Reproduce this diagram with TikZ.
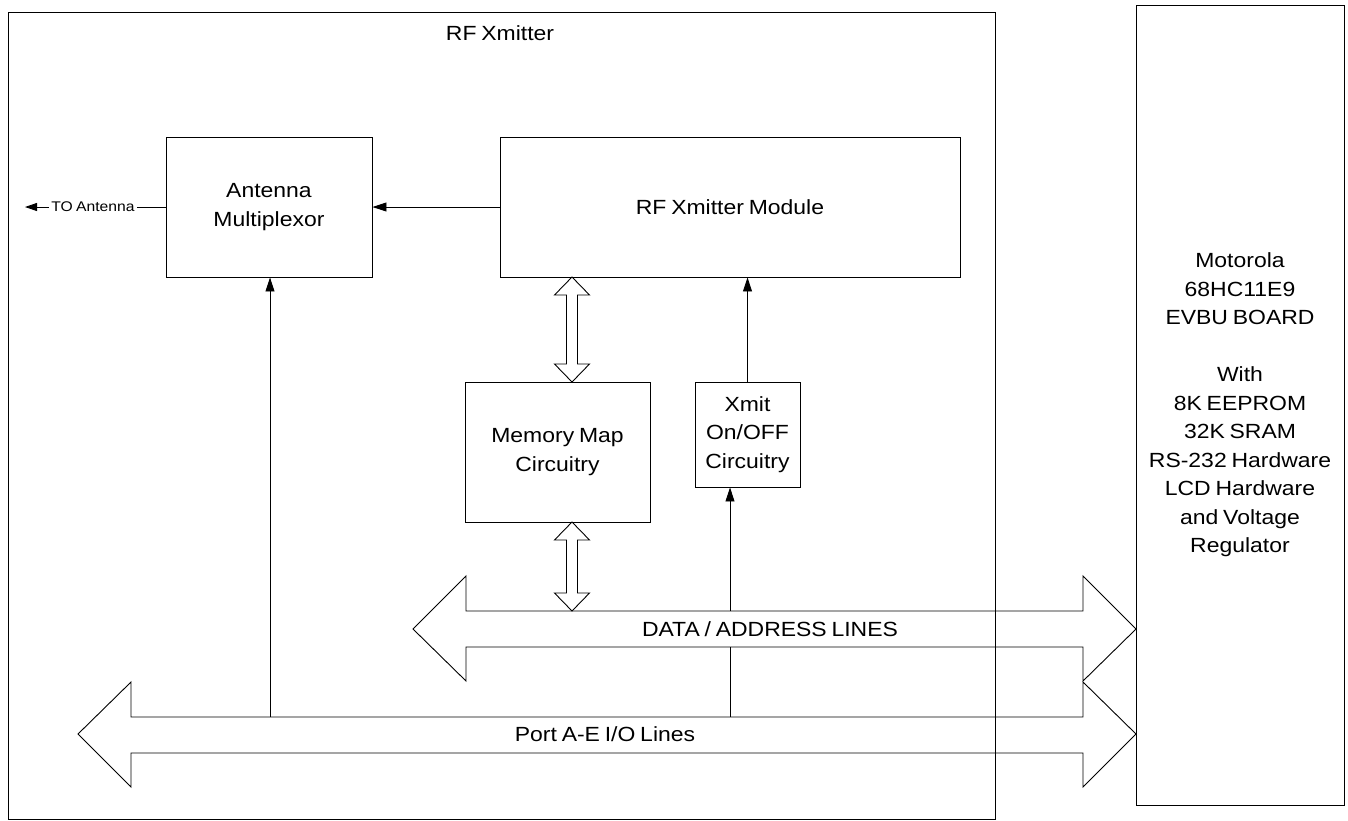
\documentclass[tikz,border=0pt]{standalone}
\usepackage{fontspec}
\setmainfont{Liberation Sans}[FakeStretch=1.12,WordSpace=0.75]
\usetikzlibrary{arrows.meta}
\newcommand\mainsz{\fontsize{20.5}{28.5}\selectfont}
\newcommand\smallsz{\fontsize{14}{16}\selectfont}
\begin{document}
\begin{tikzpicture}[x=1pt,y=-1pt,line width=0.9pt,
  blk/.style={draw, inner sep=0pt, align=center, font=\mainsz},
  lbl/.style={inner sep=0pt, align=center, font=\mainsz},
  arr/.style={-{Triangle[length=14pt,width=9pt]}},
  sarr/.style={-{Triangle[length=12pt,width=8pt]}}]
\useasboundingbox (0,0) rectangle (1348,820);

% enclosing boards
\node[draw, minimum width=987pt, minimum height=807pt, inner sep=0pt] (rfx) at (501.5,415.5) {};
\node[lbl] (rfxlbl) at (500,33) {RF Xmitter};
\node[draw, minimum width=208pt, minimum height=800pt, inner sep=0pt] (evbu) at (1240,405) {};
\node[lbl] (evbulbl) at (1240,405) {Motorola\\68HC11E9\\EVBU BOARD\\[28.5pt]With\\8K EEPROM\\32K SRAM\\RS-232 Hardware\\LCD Hardware\\and Voltage\\Regulator};

% functional blocks
\node[blk, minimum width=206pt, minimum height=140pt] (mux) at (269,207) {Antenna\\Multiplexor};
\node[blk, minimum width=460pt, minimum height=140pt] (rfm) at (730,207) {RF Xmitter Module};
\node[blk, minimum width=185pt, minimum height=140pt] (mem) at (557.5,452) {Memory Map\\Circuitry};
\node[blk, minimum width=105pt, minimum height=105pt] (xon) at (747.5,434.5) {Xmit\\On/OFF\\Circuitry};

% data / address bus
\draw (413,629) -- (466,576) -- (466,611) -- (1083,611) -- (1083,576) -- (1136,629)
  -- (1083,681) -- (1083,647) -- (466,647) -- (466,681) -- cycle;
\node[lbl] (dbus) at (770,629) {DATA / ADDRESS LINES};

% port I/O bus
\draw (78,734) -- (131,682) -- (131,717) -- (1083,717) -- (1083,682) -- (1136,734)
  -- (1083,787) -- (1083,753) -- (131,753) -- (131,787) -- cycle;
\node[lbl] (pbus) at (605,734) {Port A-E I/O Lines};

% bidirectional links to the memory map
\draw (572,277) -- (589.5,295) -- (577.5,295) -- (577.5,364) -- (589.5,364) -- (572,382)
  -- (554.5,364) -- (566.5,364) -- (566.5,295) -- (554.5,295) -- cycle;
\draw (572,522) -- (589.5,540) -- (577.5,540) -- (577.5,593) -- (589.5,593) -- (572,611)
  -- (554.5,593) -- (566.5,593) -- (566.5,540) -- (554.5,540) -- cycle;

% bus taps
\coordinate (dbT) at (730,611);
\coordinate (dbB) at (730,647);
\coordinate (pbX) at (730,717);
\coordinate (pbA) at (270,717);
\coordinate (ant) at (25,207);

% signal connectors
\draw[arr] (rfm.west) -- (mux.east);
\draw[arr] (xon.north) -- (xon.north |- rfm.south);
\draw[arr] (dbT) -- (dbT |- xon.south);
\draw (dbB) -- (pbX);
\draw[arr] (pbA) -- (pbA |- mux.south);

% antenna output
\node[inner sep=2pt, font=\smallsz] (toant) at (93,207) {TO Antenna};
\draw (mux.west) -- (toant.east);
\draw[sarr] (toant.west) -- (ant);
\end{tikzpicture}
\end{document}
